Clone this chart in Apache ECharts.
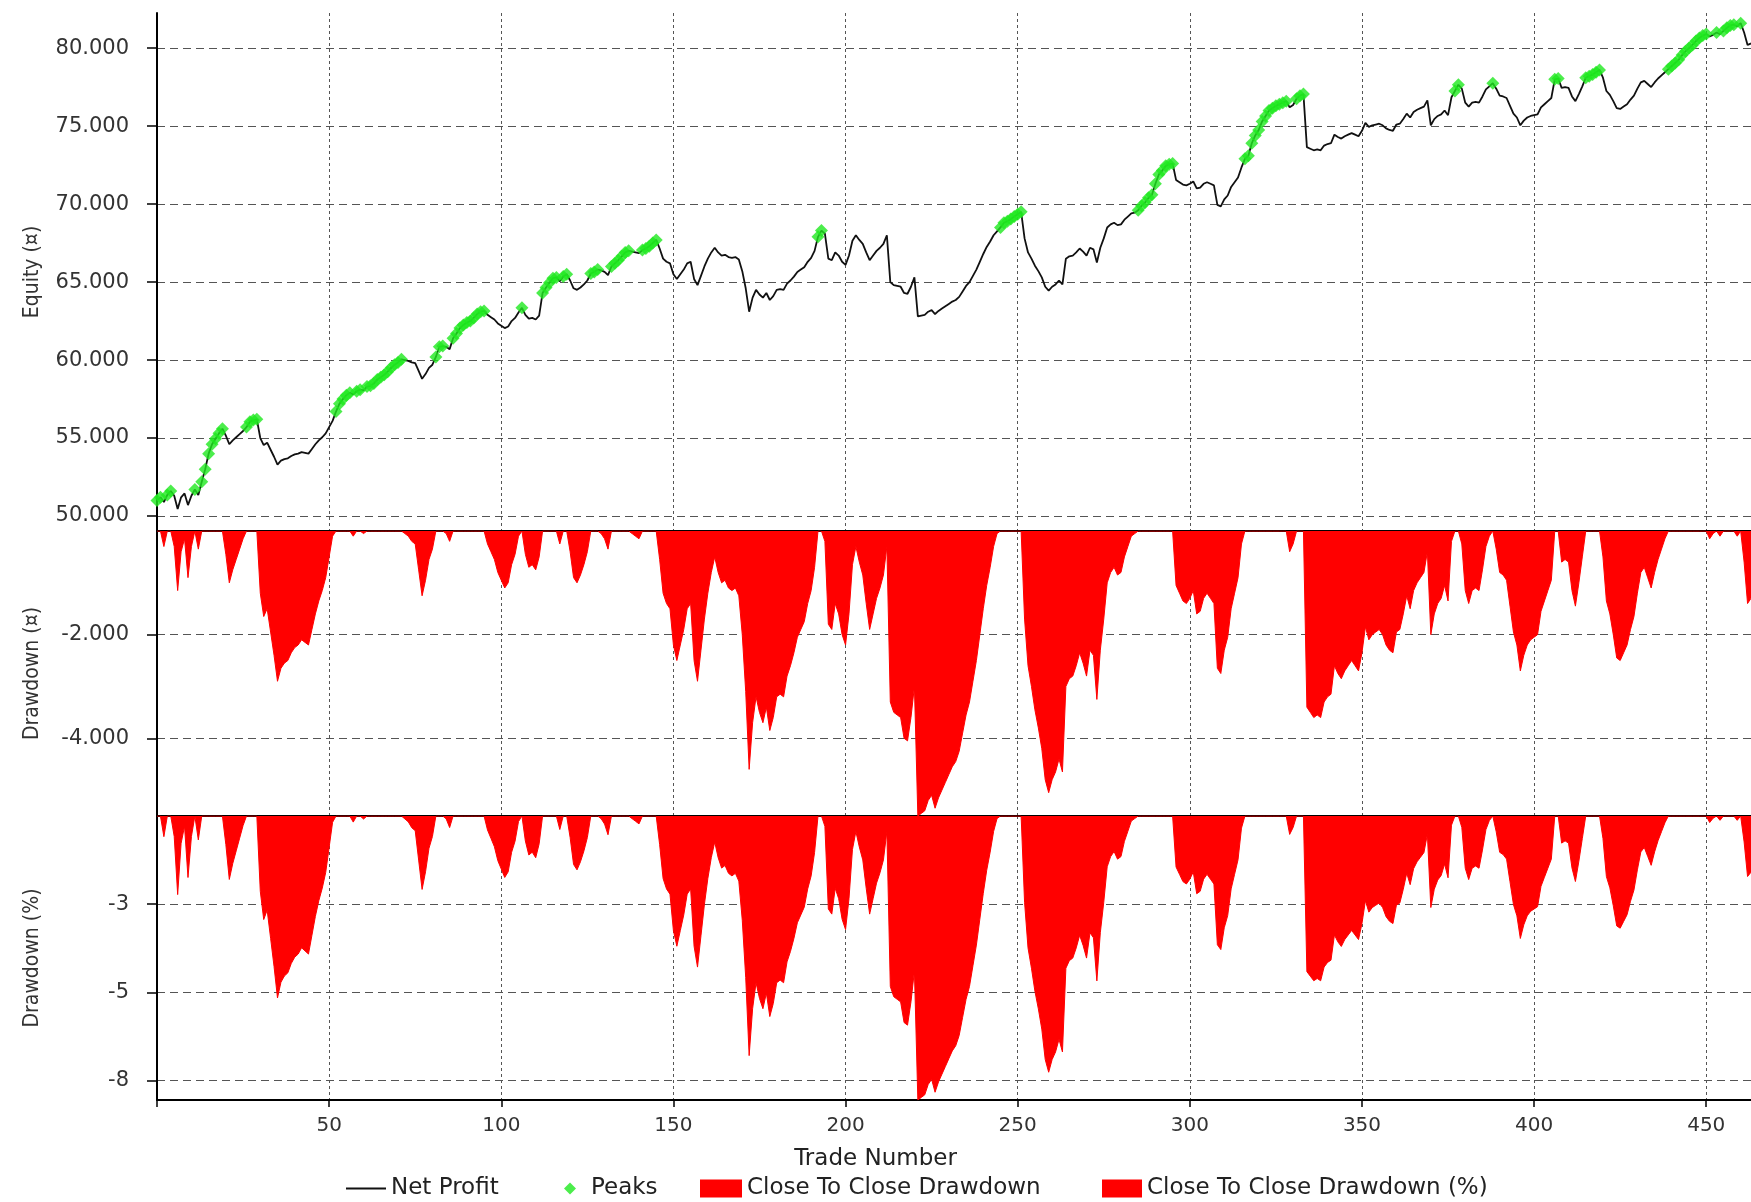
<!DOCTYPE html>
<html>
<head>
<meta charset="utf-8">
<title>Equity and drawdown by trade</title>
<script src="https://cdn.jsdelivr.net/npm/echarts@6/dist/echarts.min.js"></script>
<style>
    html, body { margin: 0; padding: 0; background: #fff; }
    #main { width: 1751px; height: 1202px; }
</style>
</head>
<body>
<div id="main"></div>
<script>
// net profit (equity) per trade number, trade 0 .. 463
var equity = [
    51000, 51200, 50900, 51350, 51600, 51300, 50450, 51200, 51450, 50700,
    51300, 51700, 51350, 52200, 53000, 54000, 54600, 54950, 55300, 55600,
    55150, 54600, 54850, 55050, 55250, 55450, 55700, 56050, 56150, 56200,
    55000, 54550, 54700, 54250, 53800, 53300, 53550, 53650, 53700, 53850,
    53950, 54000, 54100, 54050, 54000, 54300, 54600, 54850, 55050, 55300,
    55700, 56100, 56700, 57200, 57500, 57750, 57900, 57800, 58000, 58100,
    58050, 58300, 58350, 58500, 58750, 58900, 59050, 59250, 59500, 59700,
    59850, 60050, 60000, 59950, 59850, 59800, 59300, 58800, 59100, 59500,
    59700, 60200, 60850, 60900, 60850, 60700, 61400, 61700, 62050, 62250,
    62400, 62500, 62700, 62950, 63100, 63150, 62900, 62750, 62600, 62350,
    62200, 62050, 62150, 62500, 62700, 63050, 63350, 62900, 62650, 62700,
    62600, 62850, 64300, 64650, 64950, 65250, 65300, 65050, 65350, 65500,
    65100, 64600, 64500, 64650, 64850, 65100, 65550, 65650, 65800, 65750,
    65650, 65450, 66000, 66200, 66400, 66650, 66900, 67000, 66950, 66900,
    66850, 67050, 67150, 67300, 67500, 67700, 67150, 66500, 66300, 66200,
    65500, 65200, 65500, 65800, 66200, 66300, 65200, 64800, 65400, 66000,
    66500, 66900, 67200, 66900, 66700, 66750, 66600, 66550, 66600, 66450,
    65700, 64600, 63100, 64000, 64500, 64200, 64000, 64300, 63850, 64100,
    64500, 64550, 64500, 64900, 65100, 65350, 65650, 65800, 65950, 66300,
    66550, 67000, 67900, 68300, 68100, 66500, 66400, 66900, 66700, 66300,
    66100, 66700, 67650, 68000, 67700, 67450, 66900, 66400, 66700, 67000,
    67200, 67450, 68000, 65000, 64800, 64750, 64700, 64300, 64250, 64700,
    65300, 62800, 62850, 62900, 63100, 63200, 62950, 63150, 63300, 63450,
    63600, 63750, 63850, 64050, 64400, 64750, 65000, 65400, 65800, 66300,
    66800, 67250, 67600, 68000, 68250, 68500, 68800, 68900, 69050, 69200,
    69350, 69500, 67800, 66900, 66500, 66050, 65700, 65300, 64700, 64450,
    64700, 64850, 65100, 64850, 66500, 66650, 66700, 66900, 67150, 66950,
    66700, 67200, 67100, 66250, 67200, 67800, 68500, 68700, 68800, 68650,
    68700, 69000, 69200, 69400, 69450, 69600, 69900, 70100, 70400, 70600,
    71300, 71900, 72150, 72450, 72550, 72600, 71550, 71400, 71250, 71200,
    71300, 71450, 71000, 71050, 71300, 71400, 71300, 71200, 69950, 69850,
    70300, 70550, 71100, 71400, 71700, 72350, 72900, 73100, 73900, 74400,
    74750, 75300, 75650, 76000, 76150, 76300, 76400, 76500, 76600, 76200,
    76350, 76750, 76950, 77050, 73650, 73550, 73450, 73500, 73450, 73750,
    73850, 73900, 74450, 74300, 74200, 74350, 74450, 74550, 74450, 74350,
    74700, 75200, 74950, 75050, 75100, 75150, 75050, 74850, 74750, 74700,
    75100, 75150, 75450, 75800, 75550, 75900, 76050, 76150, 76250, 76650,
    75050, 75450, 75650, 75750, 76000, 75700, 76850, 77250, 77650, 77400,
    76500, 76250, 76500, 76550, 76500, 76900, 77350, 77550, 77750, 77400,
    76950, 76900, 76800, 76300, 75800, 75550, 75050, 75350, 75550, 75650,
    75700, 75750, 76200, 76400, 76600, 76800, 78000, 78050, 77450, 77500,
    77450, 76900, 76600, 77050, 77550, 78100, 78200, 78300, 78450, 78600,
    78100, 77250, 77000, 76600, 76150, 76100, 76250, 76400, 76700, 76950,
    77400, 77800, 77900, 77700, 77500, 77800, 78050, 78250, 78450, 78650,
    78850, 79050, 79250, 79550, 79800, 80000, 80200, 80450, 80650, 80800,
    80900, 80750, 80850, 81000, 80900, 81100, 81300, 81450, 81500, 81400,
    81600, 81000, 80200, 80300
];

var tradeTicks = [0, 50, 100, 150, 200, 250, 300, 350, 400, 450];
var tradeLabels = [50, 100, 150, 200, 250, 300, 350, 400, 450];
var equityTicks = [50000, 55000, 60000, 65000, 70000, 75000, 80000];
var drawdownTicks = [-4000, -2000];
var drawdownPctTicks = [-7.5, -5, -2.5];

var legendNames = ['Net Profit', 'Peaks', 'Close To Close Drawdown', 'Close To Close Drawdown (%)'];

// the chart derives peaks and drawdowns from the equity curve, same here
var netProfit = [];
var peaks = [];
var drawdown = [];
var drawdownPct = [];
var runMax = -Infinity;
for (var i = 0; i < equity.length; i++) {
    if (equity[i] >= runMax) {
        runMax = equity[i];
        peaks.push([i, equity[i]]);
    }
    netProfit.push([i, equity[i]]);
    drawdown.push([i, equity[i] - runMax]);
    drawdownPct.push([i, +((equity[i] - runMax) / runMax * 100).toFixed(3)]);
}

var labelFont = 'DejaVu Sans, Verdana, sans-serif';
var nameFont = 'Liberation Sans Narrow, DejaVu Sans Condensed, Liberation Sans, sans-serif';

function dotThousands(v) {
    var s = Math.round(Math.abs(v)).toString().replace(/\B(?=(\d{3})+(?!\d))/g, '.');
    return (v < 0 ? '-' : '') + s;
}

function roundAway(v) {
    return (v < 0 ? '-' : '') + Math.round(Math.abs(v));
}

function tradeAxis(gridIndex, showLabels) {
    return {
        type: 'value',
        gridIndex: gridIndex,
        min: 0,
        max: 463,
        axisLine: { onZero: false, lineStyle: { color: '#000', width: 2 } },
        axisTick: { show: showLabels, customValues: tradeTicks, length: 7, lineStyle: { color: '#000', width: 1.5 } },
        axisLabel: { show: showLabels, customValues: tradeLabels, margin: 16, fontFamily: labelFont, fontSize: 20, color: '#333' },
        splitLine: { show: true, lineStyle: { color: '#555', width: 1, type: [3, 3] } }
    };
}

function valueAxis(gridIndex, name, min, max, ticks, fmt) {
    return {
        type: 'value',
        gridIndex: gridIndex,
        min: min,
        max: max,
        name: name,
        nameLocation: 'middle',
        nameRotate: 90,
        nameGap: 114,
        nameTextStyle: { fontFamily: nameFont, fontSize: 21, color: '#333' },
        axisLine: { show: true, onZero: false, lineStyle: { color: '#000', width: 2 } },
        axisTick: { show: true, customValues: ticks, length: 10, lineStyle: { color: '#000', width: 1.5 } },
        axisLabel: { customValues: ticks, formatter: fmt, margin: 28, fontFamily: labelFont, fontSize: 21, color: '#333' },
        splitLine: { show: true, lineStyle: { color: '#555', width: 1, type: [8, 5] } }
    };
}

var legendText = { fontFamily: labelFont, fontSize: 23, color: '#222' };

var chart = echarts.init(document.getElementById('main'), null, { renderer: 'canvas' });

var option = {
    backgroundColor: '#fff',
    animation: false,
    title: {
        text: 'Trade Number',
        left: 'center',
        top: 1143,
        textStyle: { fontFamily: labelFont, fontSize: 23, fontWeight: 'normal', color: '#222' }
    },
    legend: [
        { data: [{ name: legendNames[0], icon: 'rect' }], left: 341, top: 1172, itemWidth: 40, itemHeight: 2, selectedMode: false, textStyle: legendText },
        { data: [{ name: legendNames[1], icon: 'diamond' }], left: 559, top: 1172, itemWidth: 12, itemHeight: 12, selectedMode: false,
          textStyle: { fontFamily: labelFont, fontSize: 23, color: '#222', padding: [0, 0, 0, 10] } },
        { data: [{ name: legendNames[2], icon: 'rect' }], left: 695, top: 1172, itemWidth: 42, itemHeight: 18, selectedMode: false, textStyle: legendText },
        { data: [{ name: legendNames[3], icon: 'rect' }], left: 1097, top: 1172, itemWidth: 40, itemHeight: 18, selectedMode: false, textStyle: legendText }
    ],
    grid: [
        { left: 157, right: 0, top: 13, height: 518, outerBoundsMode: 'none' },
        { left: 157, right: 0, top: 531, height: 285, outerBoundsMode: 'none' },
        { left: 157, right: 0, top: 816, height: 284, outerBoundsMode: 'none' }
    ],
    xAxis: [tradeAxis(0, false), tradeAxis(1, false), tradeAxis(2, true)],
    yAxis: [
        valueAxis(0, 'Equity (¤)', 49040, 82250, equityTicks, dotThousands),
        valueAxis(1, 'Drawdown (¤)', 'dataMin', 0, drawdownTicks, dotThousands),
        valueAxis(2, 'Drawdown (%)', 'dataMin', 0, drawdownPctTicks, roundAway)
    ],
    series: [
        {
            name: legendNames[0],
            type: 'line',
            xAxisIndex: 0,
            yAxisIndex: 0,
            data: netProfit,
            showSymbol: false,
            color: '#111',
            lineStyle: { color: '#111', width: 1.8 },
            z: 3
        },
        {
            name: legendNames[1],
            type: 'scatter',
            xAxisIndex: 0,
            yAxisIndex: 0,
            data: peaks,
            symbol: 'diamond',
            symbolSize: 13,
            color: '#1fe81f',
            itemStyle: { color: '#1fe81f' },
            z: 4
        },
        {
            name: legendNames[2],
            type: 'line',
            xAxisIndex: 1,
            yAxisIndex: 1,
            data: drawdown,
            showSymbol: false,
            color: '#ff0000',
            lineStyle: { color: '#ff0000', width: 1 },
            areaStyle: { color: '#ff0000', opacity: 1, origin: 'end' }
        },
        {
            name: legendNames[3],
            type: 'line',
            xAxisIndex: 2,
            yAxisIndex: 2,
            data: drawdownPct,
            showSymbol: false,
            color: '#ff0000',
            lineStyle: { color: '#ff0000', width: 1 },
            areaStyle: { color: '#ff0000', opacity: 1, origin: 'end' }
        }
    ]
};

chart.setOption(option);
</script>
</body>
</html>
